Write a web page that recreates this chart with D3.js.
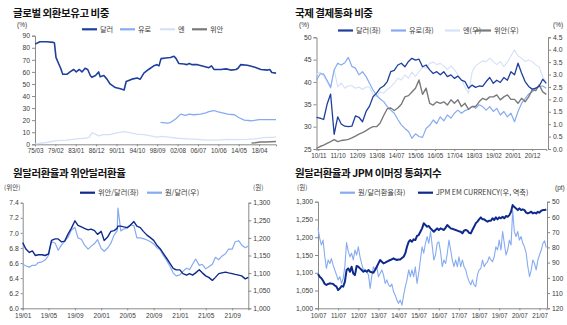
<!DOCTYPE html>
<html><head><meta charset="utf-8">
<script src="https://cdn.jsdelivr.net/npm/d3@7"></script>
<style>
body{margin:0;background:#fff;}
svg{display:block;}
</style></head><body>
<svg id="c" width="567" height="325"></svg>
<script>
// ---------- Panel 1: 글로벌 외환보유고 비중 ----------
const p1XLabels = ["75/03","79/02","83/01","86/12","90/11","94/10","98/09","02/08","06/07","10/06","14/05","18/04"];
const p1YTicks = [0,10,20,30,40,50,60,70,80,90];
const p1DollarYears = [1975.2,1976.1,1977.4,1978.7,1978.9,1979.2,1979.7,1980.1,1980.5,1981.3,1981.9,1982.6,1983.1,1983.7,1984.2,1984.8,1985.3,1985.8,1986.1,1986.8,1987.4,1987.7,1988.4,1989.0,1989.6,1990.6,1991.6,1992.3,1992.7,1993.8,1994.8,1995.4,1996.1,1997.0,1998.0,1998.6,1999.0,1999.4,2000.3,2001.2,2001.9,2002.3,2002.8,2003.8,2004.4,2004.8,2005.4,2006.4,2007.7,2008.6,2009.1,2009.6,2010.9,2011.9,2012.8,2013.8,2014.2,2014.7,2016.0,2017.3,2018.6,2019.9,2020.3,2020.7,2021.5];
const p1Dollar = [83,85,85,84.5,84,72,67,63,58,58,60,62,60,62,60,63,62,57,55.5,57,60,56,57,54,50,47,46,45,52,54,55,54,59,62,65,66,65,71,71.5,72,73,71,67,66.5,66,67,66,66,64.5,63.5,65,62,62,62.5,61.5,62,63,66,65.5,64,62,61.5,62,59.5,59];
const p1EuroYears = [1999.3,2000.6,2001.2,2002.2,2003.2,2004.1,2004.8,2005.7,2007.0,2008.0,2008.6,2009.6,2010.2,2011.2,2012.2,2013.5,2014.4,2015.4,2016.7,2018.3,2019.9,2021.5];
const p1Euro = [18.2,17.5,18,21,25,24,25,24.5,25,26,27,28,27,26,25,24.5,22,20,19.5,20.5,20.5,20.5];
const p1YenYears = [1975.2,1975.6,1977.4,1979.3,1981.2,1983.2,1984.8,1985.6,1986.1,1986.5,1987.4,1988.3,1989.6,1990.9,1992.2,1992.9,1993.5,1994.8,1996.1,1997.4,1998.6,1999.6,2000.9,2002.5,2004.4,2006.4,2008.3,2010.2,2012.2,2014.1,2016.0,2017.3,2019.2,2021.5];
const p1Yen = [0.3,0.5,1.5,3,3.5,4.5,5,6,9.5,9,7,8,8,9.5,10.5,10,9.5,8.5,8,7,6,6.5,6,5,4.5,4,3.5,3.5,4,3.8,4,4.5,5.5,6];
const p1YuanYears = [2016.8,2017.5,2018.5,2019.5,2020.5,2021.5];
const p1Yuan = [1.1,1.2,1.9,2.0,2.2,2.4];

// ---------- Panel 2: 국제 결제통화 비중 ----------
const p2XLabels = ["2010-11","2011-10","2012-09","2013-08","2014-07","2015-06","2016-05","2017-04","2018-03","2019-02","2020-01","2020-12"];
const p2LeftTicks = [25,30,35,40,45,50];
const p2RightTicks = [0,0.5,1,1.5,2,2.5,3,3.5,4,4.5];
const p2Months = ["2010-10","2010-12","2011-02","2011-04","2011-06","2011-08","2011-10","2011-12","2012-02","2012-04","2012-06","2012-08","2012-10","2012-12","2013-02","2013-04","2013-06","2013-08","2013-10","2013-12","2014-02","2014-04","2014-06","2014-08","2014-10","2014-12","2015-02","2015-04","2015-06","2015-08","2015-10","2015-12","2016-02","2016-04","2016-06","2016-08","2016-10","2016-12","2017-02","2017-04","2017-06","2017-08","2017-10","2017-12","2018-02","2018-04","2018-06","2018-08","2018-10","2018-12","2019-02","2019-04","2019-06","2019-08","2019-10","2019-12","2020-02","2020-04","2020-06","2020-08","2020-10","2020-12","2021-02","2021-04","2021-06","2021-08"];
const p2Dollar = [32.1,31.9,31.6,35.0,37.3,28.3,32.2,30.6,30.1,30.0,30.1,32.4,32.1,31.1,33.4,34.6,36.7,37.5,38.6,39.1,40.1,42.3,42.6,43.8,44.2,43.4,44.6,45.3,44.9,45.1,43.4,43.8,42.7,41.9,42.3,41.6,42.3,41.2,41.6,40.8,41.3,40.4,40.1,38.6,39.3,38.8,39.1,39.0,40.1,41.0,39.7,40.4,39.9,41.0,40.4,42.3,41.6,44.2,42.0,40.1,39.0,38.4,38.6,39.1,40.6,39.7];
const p2Euro = [40.4,41.8,41.8,40.4,38.8,42.7,44.2,43.8,44.3,45.5,43.5,43.1,41.6,42.3,41.2,39.7,38.2,37.0,36.2,35.6,34.5,33.7,33.0,31.6,30.4,29.6,28.9,27.4,28.4,27.8,27.6,29.6,30.3,31.5,30.7,32.2,31.3,32.6,31.9,33.0,33.7,33.0,33.6,33.9,34.5,34.1,34.9,34.5,33.7,34.5,33.4,34.1,32.6,33.4,32.2,33.0,31.1,33.4,35.2,36.3,37.3,37.8,38.6,39.0,39.1,38.6];
const p2Yen = [3.0,3.1,2.95,2.7,2.45,3.2,2.5,2.65,2.45,2.55,2.55,2.45,2.5,2.4,2.5,2.5,2.2,2.1,2.3,2.25,2.4,2.5,2.65,2.85,2.78,2.98,2.85,3.1,2.92,3.12,3.3,3.25,3.45,3.5,3.4,3.45,3.35,3.2,3.35,3.2,3.0,2.8,2.5,2.25,3.1,3.35,3.45,3.55,3.52,3.66,3.52,3.4,3.52,3.32,3.5,3.75,3.99,3.75,3.66,3.52,3.59,3.52,3.39,3.3,2.9,2.72];
const p2Yuan = [0.03,0.1,0.16,0.23,0.3,0.38,0.3,0.34,0.36,0.39,0.45,0.52,0.6,0.66,0.74,0.83,0.9,0.9,1.05,1.35,1.62,1.65,1.55,1.65,1.8,2.1,2.15,2.3,2.45,2.78,2.2,2.45,1.84,1.77,1.9,1.84,1.9,1.77,1.98,1.84,1.98,1.71,1.84,1.6,1.71,1.71,1.9,2.04,1.98,2.1,2.1,2.18,1.98,2.1,2.18,2.0,2.0,1.84,2.04,1.9,2.1,2.38,2.35,2.58,2.3,2.2];

// ---------- Panel 3: 원달러환율과 위안달러환율 ----------
const p3XLabels = ["2019-01-01","2019-05-01","2019-09-01","2020-01-01","2020-05-01","2020-09-01","2021-01-01","2021-05-01","2021-09-01"];
const p3LeftTicks = [6.0,6.2,6.4,6.6,6.8,7.0,7.2,7.4];
const p3RightTicks = [1000,1050,1100,1150,1200,1250,1300];
const p3Dates = ["2019-01-01","2019-01-15","2019-02-01","2019-02-15","2019-03-01","2019-03-15","2019-04-01","2019-04-15","2019-05-01","2019-05-15","2019-06-01","2019-06-15","2019-07-01","2019-07-15","2019-08-01","2019-08-15","2019-09-01","2019-09-15","2019-10-01","2019-10-15","2019-11-01","2019-11-15","2019-12-01","2019-12-15",
"2020-01-01","2020-01-15","2020-02-01","2020-02-15","2020-03-01","2020-03-15","2020-03-19","2020-04-01","2020-04-15","2020-05-01","2020-05-15","2020-06-01","2020-06-15","2020-07-01","2020-07-15","2020-08-01","2020-08-15","2020-09-01","2020-09-15","2020-10-01","2020-10-15","2020-11-01","2020-11-15","2020-12-01","2020-12-15",
"2021-01-01","2021-01-15","2021-02-01","2021-02-15","2021-03-01","2021-03-15","2021-04-01","2021-04-15","2021-05-01","2021-05-15","2021-06-01","2021-06-15","2021-07-01","2021-07-15","2021-08-01","2021-08-15","2021-09-01","2021-09-15","2021-10-01","2021-10-15","2021-11-01","2021-11-15"];
const p3Cny = [6.87,6.79,6.74,6.76,6.70,6.71,6.71,6.70,6.72,6.90,6.92,6.92,6.88,6.89,6.99,7.06,7.16,7.10,7.08,7.06,7.04,7.05,7.03,6.98,
7.02,6.90,6.95,7.02,7.03,7.06,7.09,7.09,7.08,7.07,7.10,7.15,7.09,7.07,7.02,6.97,6.94,6.90,6.84,6.79,6.73,6.66,6.60,6.53,6.51,
6.51,6.46,6.44,6.46,6.44,6.47,6.51,6.47,6.43,6.41,6.37,6.41,6.46,6.47,6.48,6.47,6.46,6.45,6.44,6.43,6.39,6.41];
const p3Krw = [1125,1121,1117,1122,1122,1130,1132,1137,1150,1190,1185,1165,1180,1190,1203,1222,1230,1200,1196,1180,1168,1176,1184,1195,
1170,1162,1172,1185,1208,1220,1285,1220,1225,1228,1237,1235,1200,1200,1198,1194,1190,1183,1173,1166,1151,1135,1120,1100,1092,
1095,1105,1114,1110,1125,1140,1122,1125,1112,1118,1125,1145,1138,1148,1155,1168,1168,1189,1192,1180,1172,1177];

// ---------- Panel 4: 원달러환율과 JPM 이머징 통화지수 ----------
const p4XLabels = ["2010-07","2011-07","2012-07","2013-07","2014-07","2015-07","2016-07","2017-07","2018-07","2019-07","2020-07","2021-07"];
const p4LeftTicks = [1000,1050,1100,1150,1200,1250,1300];
const p4RightTicks = [50,60,70,80,90,100,110,120];
const p4Months = [
"2010-07","2010-08","2010-09","2010-10","2010-11","2010-12","2011-01","2011-02","2011-03","2011-04","2011-05","2011-06",
"2011-07","2011-08","2011-09","2011-10","2011-11","2011-12","2012-01","2012-02","2012-03","2012-04","2012-05","2012-06",
"2012-07","2012-08","2012-09","2012-10","2012-11","2012-12","2013-01","2013-02","2013-03","2013-04","2013-05","2013-06",
"2013-07","2013-08","2013-09","2013-10","2013-11","2013-12","2014-01","2014-02","2014-03","2014-04","2014-05","2014-06",
"2014-07","2014-08","2014-09","2014-10","2014-11","2014-12","2015-01","2015-02","2015-03","2015-04","2015-05","2015-06",
"2015-07","2015-08","2015-09","2015-10","2015-11","2015-12","2016-01","2016-02","2016-03","2016-04","2016-05","2016-06",
"2016-07","2016-08","2016-09","2016-10","2016-11","2016-12","2017-01","2017-02","2017-03","2017-04","2017-05","2017-06",
"2017-07","2017-08","2017-09","2017-10","2017-11","2017-12","2018-01","2018-02","2018-03","2018-04","2018-05","2018-06",
"2018-07","2018-08","2018-09","2018-10","2018-11","2018-12","2019-01","2019-02","2019-03","2019-04","2019-05","2019-06",
"2019-07","2019-08","2019-09","2019-10","2019-11","2019-12","2020-01","2020-02","2020-03","2020-04","2020-05","2020-06",
"2020-07","2020-08","2020-09","2020-10","2020-11","2020-12","2021-01","2021-02","2021-03","2021-04","2021-05","2021-06",
"2021-07","2021-08","2021-09","2021-10","2021-11"];
const p4Krw = [
1225,1197,1178,1192,1145,1112,1136,1126,1140,1122,1108,1094,
1080,1089,1070,1084,1120,1185,1160,1145,1155,1136,1164,1150,
1173,1145,1125,1108,1110,1103,1094,1056,1089,1117,1108,1117,
1089,1098,1108,1094,1070,1080,1066,1061,1068,1047,1037,1023,
1014,1023,1009,1037,1061,1080,1108,1089,1108,1089,1117,1070,
1098,1136,1173,1155,1183,1202,1183,1216,1178,1136,1150,1183,
1187,1159,1117,1136,1126,1155,1192,1164,1136,1117,1136,1117,
1145,1117,1136,1117,1108,1089,1075,1066,1080,1066,1061,1094,
1108,1112,1136,1117,1126,1131,1145,1136,1131,1145,1173,1164,
1192,1164,1216,1183,1150,1164,1192,1178,1275,1215,1202,1216,
1192,1202,1183,1173,1155,1117,1089,1108,1136,1126,1108,1136,
1150,1164,1183,1190,1171];
const p4Jpm = [
97.5,99.3,100.3,101.9,104,104.7,104,103.6,103.8,104,105,105.8,
108,107,105.4,105.8,102.5,94.9,93.8,96,92.7,97.1,98.2,92.2,
92.7,93.8,94.9,96,95.3,96,94.9,96,96.3,96.6,94.9,92.7,
90.5,88.3,89.4,90.5,90,89.4,88.8,88.3,87.8,87.2,87.8,88.3,
88,87.9,87,86.1,83.9,79.6,76.3,75.2,76.3,74.7,75.2,72.5,
71.9,69.7,67.5,64.2,65.3,66.4,66,67.5,68.6,69.7,68.6,67.5,
68.6,67.5,68,68.6,67,65.3,66.4,67.5,67.8,68.2,68.6,69,
69.4,69.7,70.8,69,68.6,69,70.4,70.8,68.6,66.4,64.2,63.1,
61.6,60.3,61.6,61.6,62.5,63.1,62.5,62.5,60.9,62,60.3,61.6,
60.3,60.9,59.9,60.9,59.4,59.9,58.8,56.6,52.2,53.5,54.4,55.5,
54.4,55.5,55,55.5,57.2,57.7,57.2,56.6,57.7,57.2,57.7,56.6,
57.2,55.9,55.5,55.5,55];

// ---------- colours / fonts ----------
const C_DARK = "#1f3f9e", C_LIGHT = "#86abf0", C_PALE = "#d5e1f8", C_GRAY = "#7a7a7a", C_NAVY = "#0e2a8c";
const FONT = '"Noto Sans CJK KR","Noto Sans",sans-serif';
const NUMFONT = '"Liberation Sans",Arial,sans-serif';
const AX = "#8a8a8a";
const svg = d3.select("#c");
const pm = d3.timeParse("%Y-%m"), pd = d3.timeParse("%Y-%m-%d");

function styleAxis(size){
  return g => {
    g.selectAll("path.domain").attr("stroke", AX).attr("stroke-width",1);
    g.selectAll(".tick line").attr("stroke", AX);
    g.selectAll(".tick text").attr("fill","#3a3a3a").attr("font-size",size||"7px").attr("font-family",NUMFONT);
  };
}
function txt(x,y,s,opt={}){
  const t = svg.append("text").attr("x",x).attr("y",y).text(s)
    .attr("font-family",opt.family||FONT).attr("font-size",opt.size||"7px")
    .attr("font-weight",opt.weight||"normal").attr("fill",opt.fill||"#3a3a3a")
    .attr("text-anchor",opt.anchor||"start");
  if (opt.ls) t.attr("letter-spacing",opt.ls);
  return t;
}
function title(x,y,s){ return txt(x,y,s,{size:"10.5px",weight:"bold",fill:"#111",ls:"-0.45px"}); }
function legend(items,y){
  items.forEach(it=>{
    svg.append("line").attr("x1",it.x).attr("x2",it.x+15).attr("y1",y).attr("y2",y)
      .attr("stroke",it.color).attr("stroke-width",it.w||2.2);
    txt(it.x+18,y+2.5,it.label,{size:"7.2px"});
  });
}
function drawLine(xs,ys,fx,fy,color,w){
  const data = xs.map((d,i)=>[d,ys[i]]);
  svg.append("path").datum(data).attr("fill","none").attr("stroke",color)
    .attr("stroke-width",w).attr("stroke-linejoin","round")
    .attr("d", d3.line().x(d=>fx(d[0])).y(d=>fy(d[1])));
}

// ===== Panel 1 =====
{
  const parseLab = s => { const [a,b]=s.split("/").map(Number); return (a>50?1900+a:2000+a)+(b-1)/12; };
  const xt = p1XLabels.map(parseLab);
  const x = d3.scaleLinear().domain([xt[0], 2021.5]).range([35, 276]);
  const y = d3.scaleLinear().domain([0, 90]).range([144.3, 35.7]);
  title(13,16.5,"글로벌 외환보유고 비중");
  txt(17,26.5,"(%)",{family:NUMFONT,size:"6.5px"});
  legend([{x:82,color:C_DARK,label:"달러"},{x:120,color:C_LIGHT,label:"유로"},{x:160,color:C_PALE,label:"엔"},{x:192,color:C_GRAY,label:"위안"}],29.3);
  svg.append("g").attr("transform","translate(35,0)")
    .call(d3.axisLeft(y).tickValues(p1YTicks).tickSize(3).tickPadding(2)).call(styleAxis("6.8px"));
  svg.append("g").attr("transform","translate(0,144.3)")
    .call(d3.axisBottom(x).tickValues(xt).tickFormat((d,i)=>p1XLabels[i]).tickSize(2).tickPadding(2.5)).call(styleAxis("6.3px"));
  drawLine(p1YenYears,p1Yen,x,y,C_PALE,1.3);
  drawLine(p1YuanYears,p1Yuan,x,y,C_GRAY,1.5);
  drawLine(p1EuroYears,p1Euro,x,y,C_LIGHT,1.3);
  drawLine(p1DollarYears,p1Dollar,x,y,C_DARK,1.6);
}

// ===== Panel 2 =====
{
  const dates = p2Months.map(pm);
  const x = d3.scaleTime().domain([dates[0], dates[dates.length-1]]).range([316.5, 546.3]);
  const yl = d3.scaleLinear().domain([25,50]).range([149,37.3]);
  const yr = d3.scaleLinear().domain([0,4.5]).range([149,37.3]);
  title(295,16.5,"국제 결제통화 비중");
  txt(299,26.5,"(%)",{family:NUMFONT,size:"6.5px"}); txt(553,26.5,"(%)",{family:NUMFONT,size:"6.5px"});
  legend([{x:338,color:C_DARK,label:"달러(좌)"},{x:391,color:C_LIGHT,label:"유로(좌)"},{x:445,color:C_PALE,label:"엔(우)"},{x:476,color:C_GRAY,label:"위안(우)"}],30.5);
  svg.append("g").attr("transform","translate(316.5,0)")
    .call(d3.axisLeft(yl).tickValues(p2LeftTicks).tickSize(3).tickPadding(2)).call(styleAxis("6.8px"));
  svg.append("g").attr("transform","translate(548,0)")
    .call(d3.axisRight(yr).tickValues(p2RightTicks).tickFormat(d3.format(".1f")).tickSize(3).tickPadding(2)).call(styleAxis("6.8px"));
  svg.append("g").attr("transform","translate(0,149)")
    .call(d3.axisBottom(x).tickValues(p2XLabels.map(pm)).tickFormat(d3.timeFormat("%y/%m")).tickSize(2).tickPadding(2.5)).call(styleAxis("6.3px"));
  drawLine(dates,p2Yen,x,yr,C_PALE,1.1);
  drawLine(dates,p2Euro,x,yl,C_LIGHT,1.2);
  drawLine(dates,p2Yuan,x,yr,C_GRAY,1.4);
  drawLine(dates,p2Dollar,x,yl,C_DARK,1.3);
}

// ===== Panel 3 =====
{
  const dates = p3Dates.map(pd);
  const x = d3.scaleTime().domain([dates[0], dates[dates.length-1]]).range([22.7, 248.3]);
  const yl = d3.scaleLinear().domain([6.0,7.4]).range([308.3,202.7]);
  const yr = d3.scaleLinear().domain([1000,1300]).range([308.3,202.7]);
  title(13,176.5,"원달러환율과 위안달러환율");
  txt(4,190,"(위안)",{size:"6.5px"}); txt(253,190,"(원)",{size:"6.5px"});
  legend([{x:80,color:C_NAVY,label:"위안/달러(좌)"},{x:147,color:C_LIGHT,label:"원/달러(우)"}],192.7);
  svg.append("g").attr("transform","translate(22.7,0)")
    .call(d3.axisLeft(yl).tickValues(p3LeftTicks).tickFormat(d3.format(".1f")).tickSize(2).tickPadding(2)).call(styleAxis("6.8px"));
  svg.append("g").attr("transform","translate(248.3,0)")
    .call(d3.axisRight(yr).tickValues(p3RightTicks).tickFormat(d3.format(",")).tickSize(3).tickPadding(2)).call(styleAxis("6.8px"));
  svg.append("g").attr("transform","translate(0,308.3)")
    .call(d3.axisBottom(x).tickValues(p3XLabels.map(pd)).tickFormat(d3.timeFormat("%y/%m")).tickSize(2).tickPadding(3)).call(styleAxis("6.5px"));
  drawLine(dates,p3Krw,x,yr,C_LIGHT,1.2);
  drawLine(dates,p3Cny,x,yl,C_NAVY,1.4);
}

// ===== Panel 4 =====
{
  const dates = p4Months.map(pm);
  const x = d3.scaleTime().domain([dates[0], dates[dates.length-1]]).range([318, 546.3]);
  const yl = d3.scaleLinear().domain([1000,1300]).range([308.3,201.7]);
  const yr = d3.scaleLinear().domain([50,120]).range([201.7,308.3]);
  title(295,176.5,"원달러환율과 JPM 이머징 통화지수");
  txt(297,190,"(원)",{size:"6.5px"}); txt(555,190,"(pt)",{family:NUMFONT,size:"6.5px"});
  legend([{x:340,color:C_LIGHT,label:"원/달러환율(좌)"},{x:418,color:C_NAVY,label:"JPM EM CURRENCY(우, 역축)"}],192.7);
  svg.append("g").attr("transform","translate(318,0)")
    .call(d3.axisLeft(yl).tickValues(p4LeftTicks).tickFormat(d3.format(",")).tickSize(3).tickPadding(2)).call(styleAxis("6.8px"));
  svg.append("g").attr("transform","translate(547,0)")
    .call(d3.axisRight(yr).tickValues(p4RightTicks).tickSize(3).tickPadding(2)).call(styleAxis("6.8px"));
  svg.append("g").attr("transform","translate(0,308.3)")
    .call(d3.axisBottom(x).tickValues(p4XLabels.map(pm)).tickFormat(d3.timeFormat("%y/%m")).tickSize(2).tickPadding(3)).call(styleAxis("6.3px"));
  drawLine(dates,p4Krw,x,yl,C_LIGHT,1.1);
  drawLine(dates,p4Jpm,x,yr,C_NAVY,2);
}
</script></body></html>
